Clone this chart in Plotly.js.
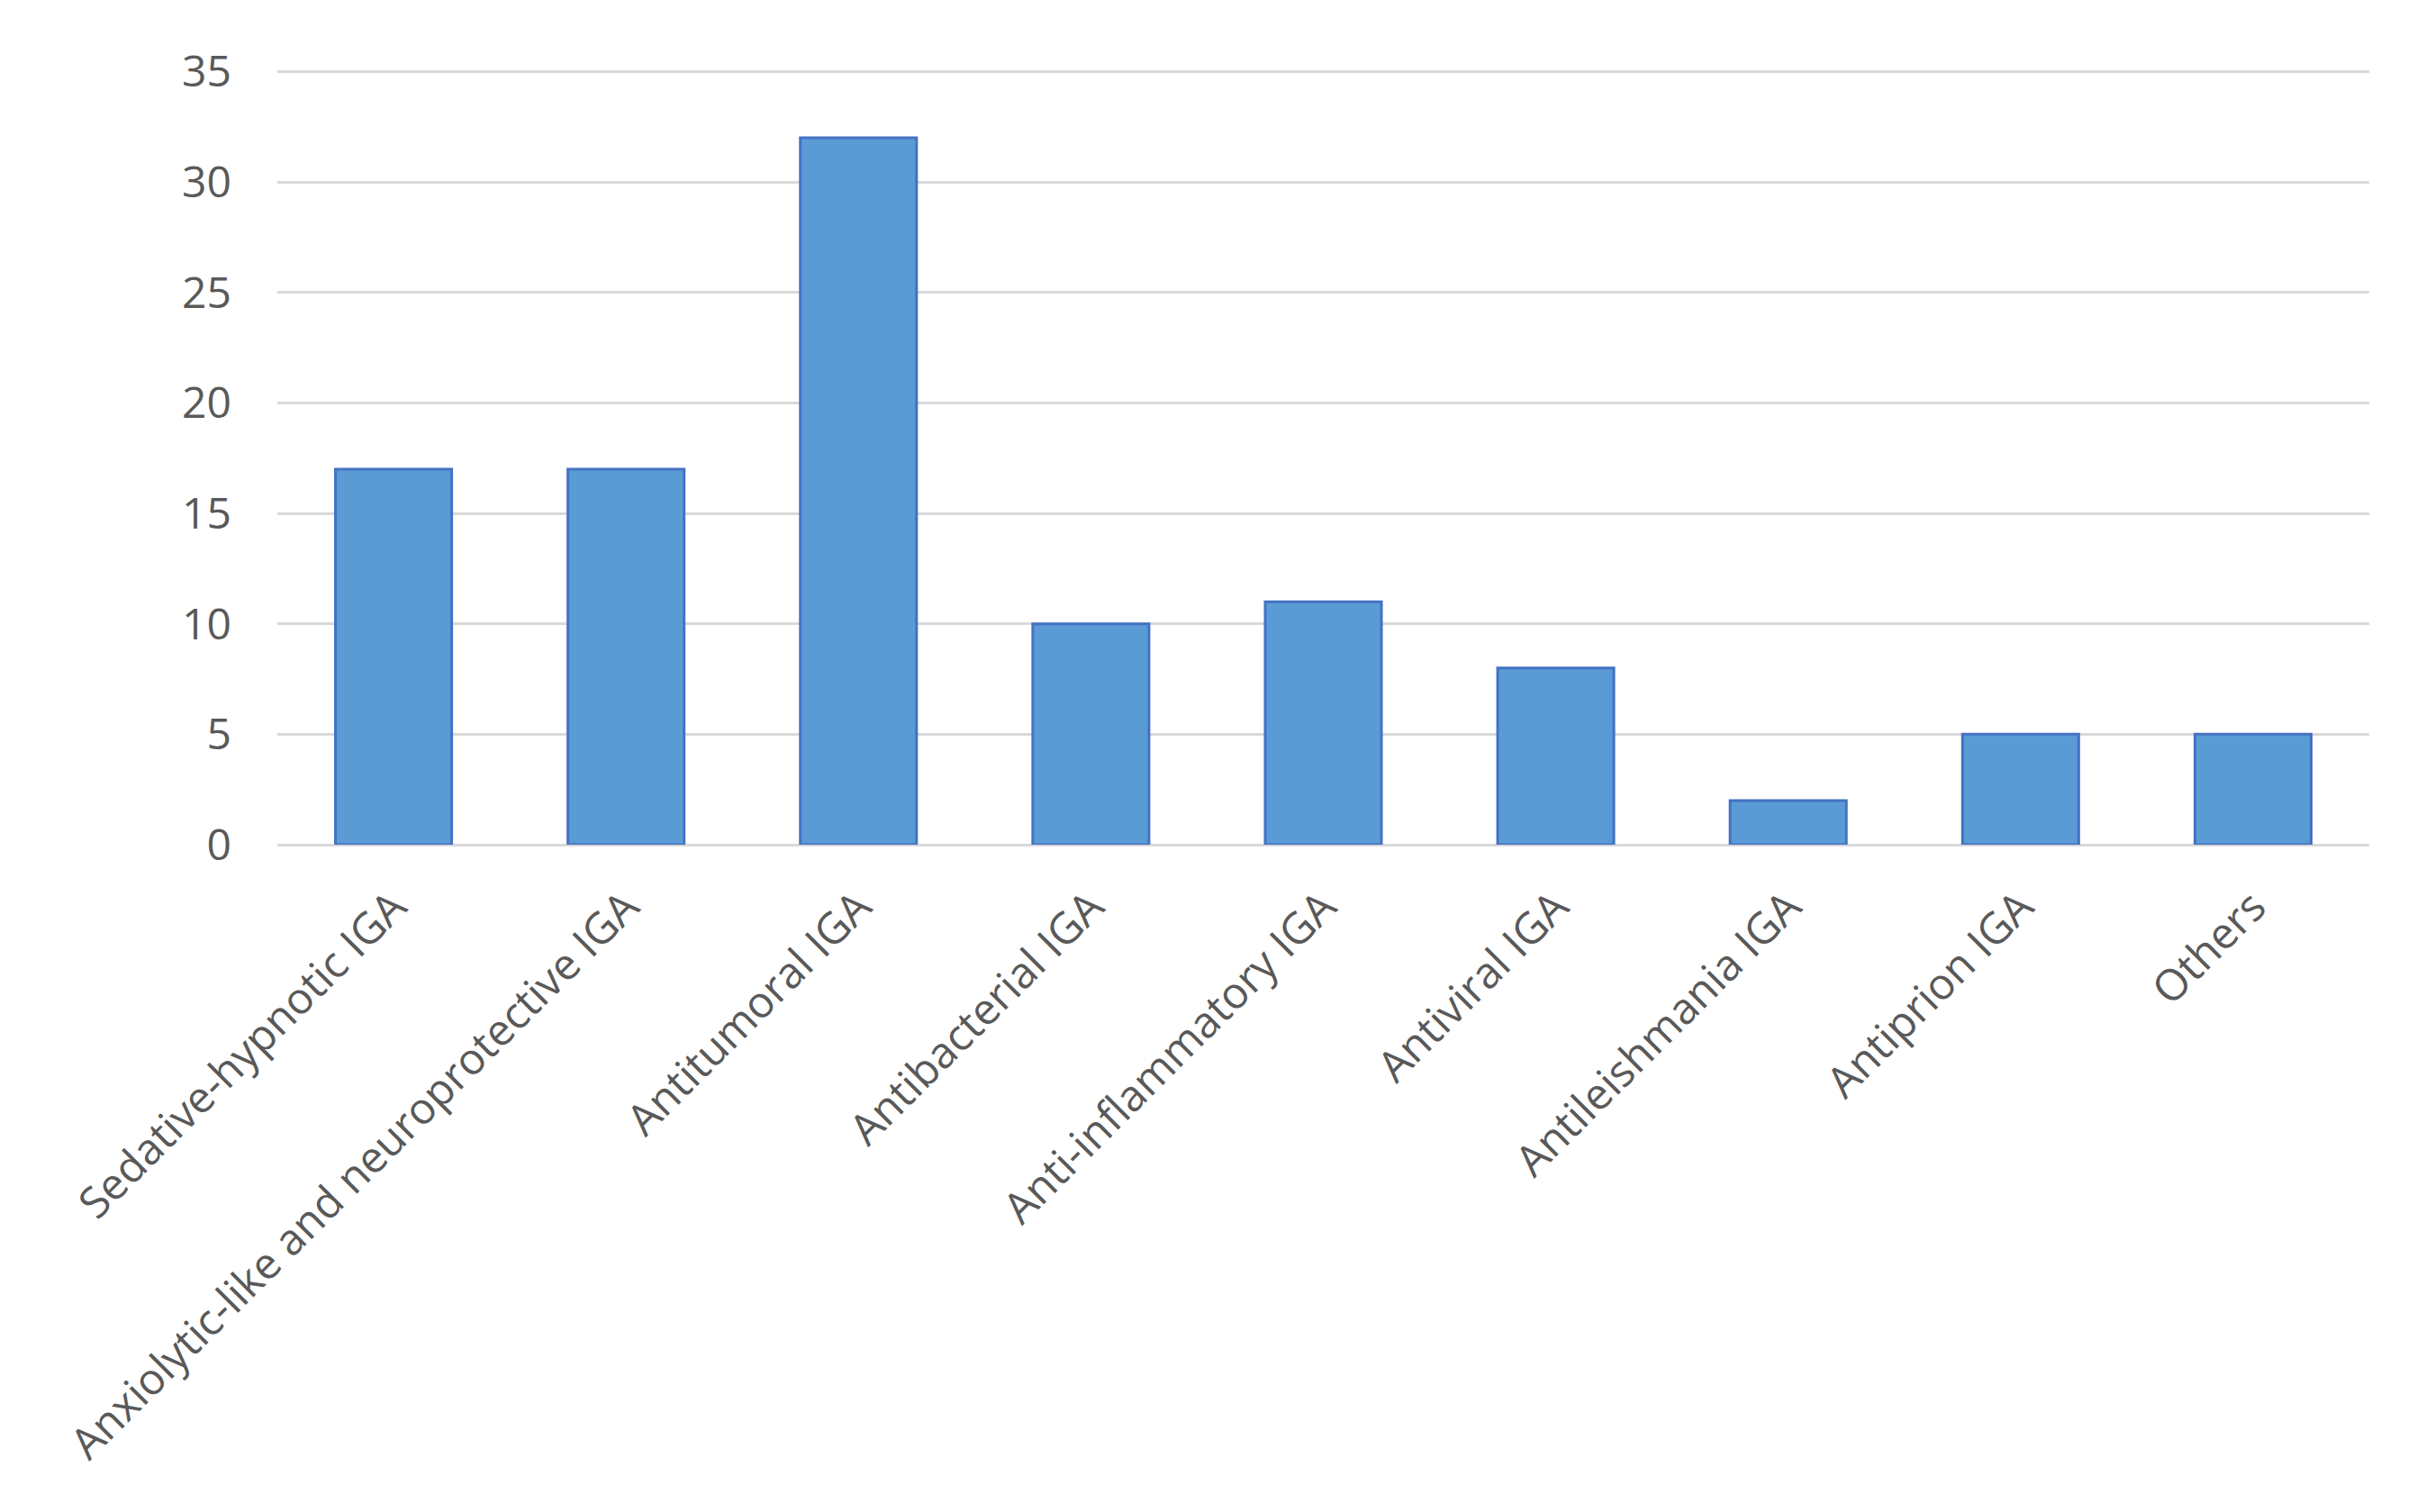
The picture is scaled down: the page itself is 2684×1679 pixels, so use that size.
<!DOCTYPE html>
<html>
<head>
<meta charset="utf-8">
<script src="https://cdn.plot.ly/plotly-3.0.1.min.js"></script>
<style>html,body{margin:0;padding:0;background:#fff;}#chart{width:2684px;height:1679px;}</style>
</head>
<body>
<div id="chart"></div>
<script>
const categories = [
  "Sedative-hypnotic IGA",
  "Anxiolytic-like and neuroprotective IGA",
  "Antitumoral IGA",
  "Antibacterial IGA",
  "Anti-inflammatory IGA",
  "Antiviral IGA",
  "Antileishmania IGA",
  "Antiprion IGA",
  "Others"
];
const counts = [17, 17, 32, 10, 11, 8, 2, 5, 5];
const yTicks = [0, 5, 10, 15, 20, 25, 30, 35];

const trace = {
  type: "bar",
  x: categories,
  y: counts,
  marker: {color: "#5b9bd5", line: {color: "#4472c4", width: 3}},
  hoverinfo: "x+y"
};

const layout = {
  width: 2684,
  height: 1679,
  paper_bgcolor: "#ffffff",
  plot_bgcolor: "#ffffff",
  margin: {l: 308, r: 53, t: 77, b: 741},
  bargap: 0.5,
  showlegend: false,
  font: {family: "Open Sans, Lato, sans-serif", color: "#595959", size: 48},
  xaxis: {
    type: "category",
    tickangle: -45,
    showgrid: false,
    showline: false,
    ticks: "",
    ticklabelstandoff: 30,
    tickfont: {size: 48, color: "#595959"},
    automargin: false
  },
  yaxis: {
    range: [0, 35.1],
    tickvals: yTicks,
    ticktext: yTicks.map(String),
    showgrid: true,
    gridcolor: "#d9d9d9",
    gridwidth: 3,
    zeroline: true,
    zerolinecolor: "#d9d9d9",
    zerolinewidth: 3,
    showline: false,
    ticks: "",
    ticklabelstandoff: 50,
    tickfont: {size: 48, color: "#595959"},
    automargin: false
  }
};

Plotly.newPlot("chart", [trace], layout, {displayModeBar: false, staticPlot: true});
</script>
</body>
</html>
